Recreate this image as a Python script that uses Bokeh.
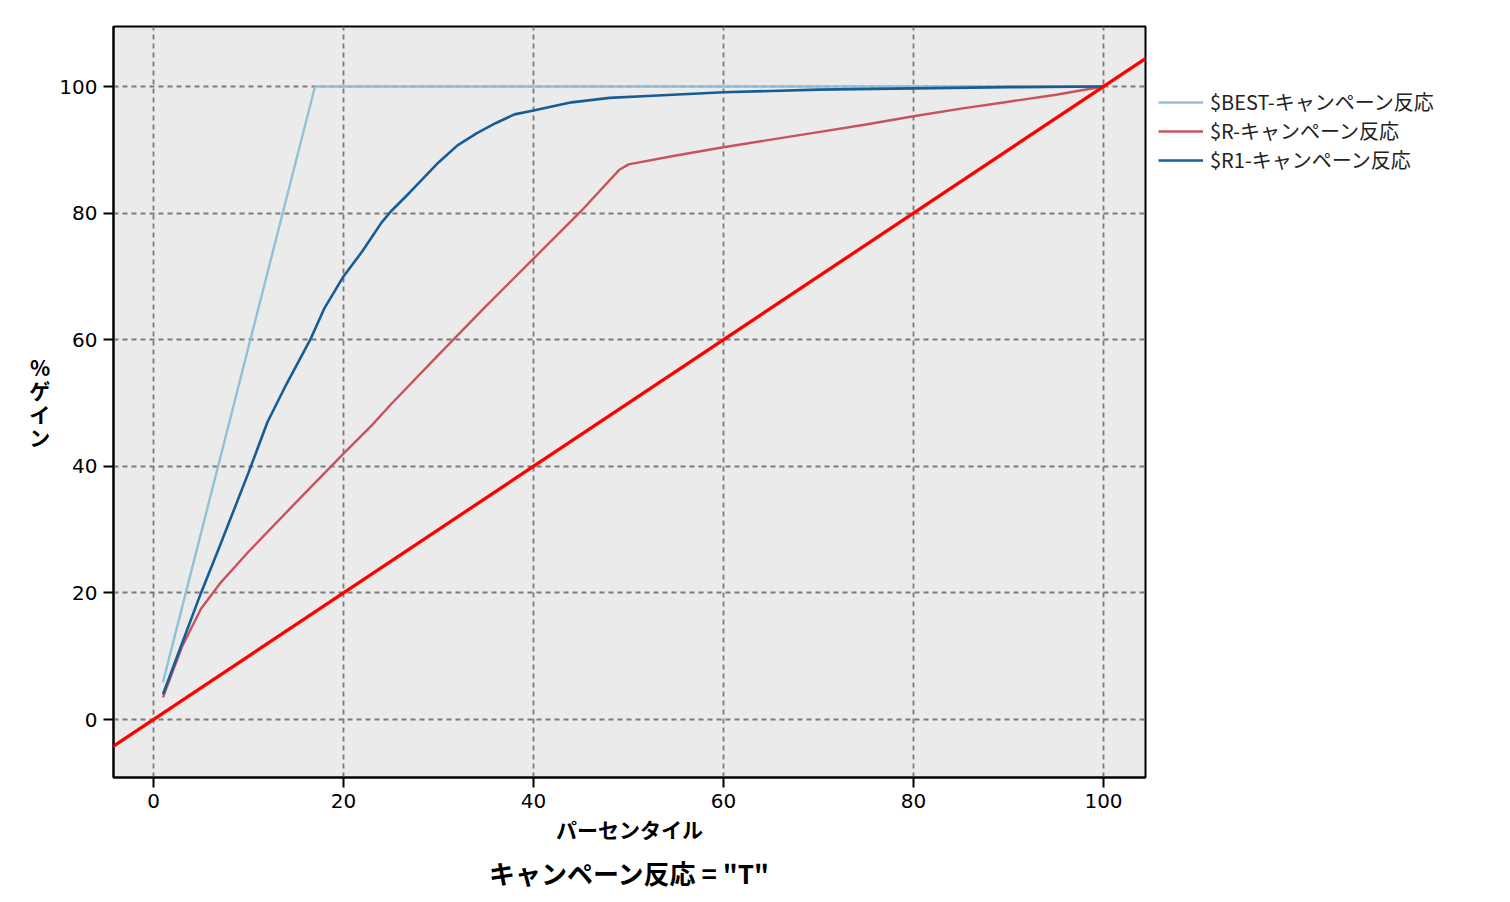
from bokeh.plotting import figure
from bokeh.models import Range1d, Slope, Legend, LegendItem, Title, FixedTicker
from bokeh.embed import file_html
from bokeh.resources import INLINE

# ---- data ----
pct_best = [1, 17, 100]
gain_best = [5.9, 100, 100]

pct_r = [1, 3, 5, 7, 10, 15, 20, 23, 25, 30, 35, 40, 45, 49, 50, 55, 60, 65, 70,
         75, 80, 85, 90, 95, 100]
gain_r = [3.5, 11.5, 17.5, 21.5, 26.5, 34.3, 42, 46.5, 49.8, 57.6, 65.3, 72.8, 80.3,
          86.8, 87.7, 89.1, 90.4, 91.6, 92.8, 94, 95.3, 96.5, 97.6, 98.7, 100]

pct_r1 = [1, 3, 5, 7, 10, 12, 14, 16.5, 18, 20, 22, 24, 25, 27, 30, 32, 34, 36, 38,
          40, 44, 48, 52, 60, 70, 80, 90, 100]
gain_r1 = [4, 12, 20, 27.5, 39, 47, 53, 60, 65, 70, 74, 78.5, 80.3, 83.3, 88, 90.7,
           92.6, 94.2, 95.6, 96.2, 97.5, 98.2, 98.5, 99.1, 99.5, 99.7, 99.9, 100]

series_names = ["$BEST-キャンペーン反応", "$R-キャンペーン反応", "$R1-キャンペーン反応"]
x_ticks = [0, 20, 40, 60, 80, 100]
y_ticks = [0, 20, 40, 60, 80, 100]
x_title = "パーセンタイル"
y_title = "%\nゲ\nイ\nン"
bottom_title = 'キャンペーン反応 = "T"'

JP = "Noto Sans CJK JP"
NUM = "DejaVu Sans"

p = figure(frame_width=1032, frame_height=751,
           min_border_left=113, min_border_right=355,
           min_border_top=26, min_border_bottom=116,
           x_range=Range1d(-4.21, 104.42), y_range=Range1d(-9.16, 109.48),
           output_backend="svg", toolbar_location=None)

p.background_fill_color = "#ebebeb"
p.border_fill_color = "white"
p.outline_line_color = "black"
p.outline_line_width = 2

for ax in (p.xaxis, p.yaxis):
    ax.axis_line_width = 2
    ax.major_tick_line_width = 2
    ax.major_tick_out = 10
    ax.major_tick_in = 0
    ax.minor_tick_line_color = None
    ax.major_label_text_font = NUM
    ax.major_label_text_font_size = "20px"
    ax.major_label_text_color = "black"
    ax.axis_label_text_font = JP
    ax.axis_label_text_font_style = "bold"
    ax.axis_label_text_font_size = "21px"
    ax.axis_label_text_color = "black"

p.xaxis.ticker = FixedTicker(ticks=x_ticks)
p.yaxis.ticker = FixedTicker(ticks=y_ticks)
p.xaxis.major_label_standoff = 6
p.yaxis.major_label_standoff = 6
p.xaxis.axis_label = x_title
p.xaxis.axis_label_standoff = 3
p.yaxis.axis_label = y_title
p.yaxis.axis_label_orientation = "horizontal"
p.yaxis.axis_label_standoff = 6
p.yaxis.axis_label_text_line_height = 0.78

for g in (p.xgrid, p.ygrid):
    g.grid_line_color = "#7a7a7a"
    g.grid_line_dash = "5 4"
    g.grid_line_width = 1.8
p.xgrid.ticker = FixedTicker(ticks=x_ticks)
p.ygrid.ticker = FixedTicker(ticks=y_ticks)

r_best = p.line(pct_best, gain_best, line_color="#93bfd8", line_width=2.4)
r_r = p.line(pct_r, gain_r, line_color="#c9525c", line_width=2.4)
r_r1 = p.line(pct_r1, gain_r1, line_color="#165c97", line_width=2.6)

p.add_layout(Slope(gradient=1, y_intercept=0, line_color="#ff0000", line_width=3.3))

legend = Legend(items=[LegendItem(label=series_names[0], renderers=[r_best]),
                       LegendItem(label=series_names[1], renderers=[r_r]),
                       LegendItem(label=series_names[2], renderers=[r_r1])],
                location=(13, 603))
legend.border_line_color = None
legend.background_fill_alpha = 0
legend.padding = 0
legend.margin = 0
legend.spacing = 0
legend.glyph_width = 45
legend.glyph_height = 20
legend.label_height = 20
legend.label_standoff = 7
legend.label_text_font = JP
legend.label_text_font_size = "20px"
legend.label_text_color = "#222222"
p.add_layout(legend, "right")

t = Title(text=bottom_title, align="center", text_font=JP, text_font_size="26px",
          text_font_style="bold", text_color="black", standoff=10)
p.add_layout(t, "below")

open("out.html", "w").write(file_html(p, INLINE))
